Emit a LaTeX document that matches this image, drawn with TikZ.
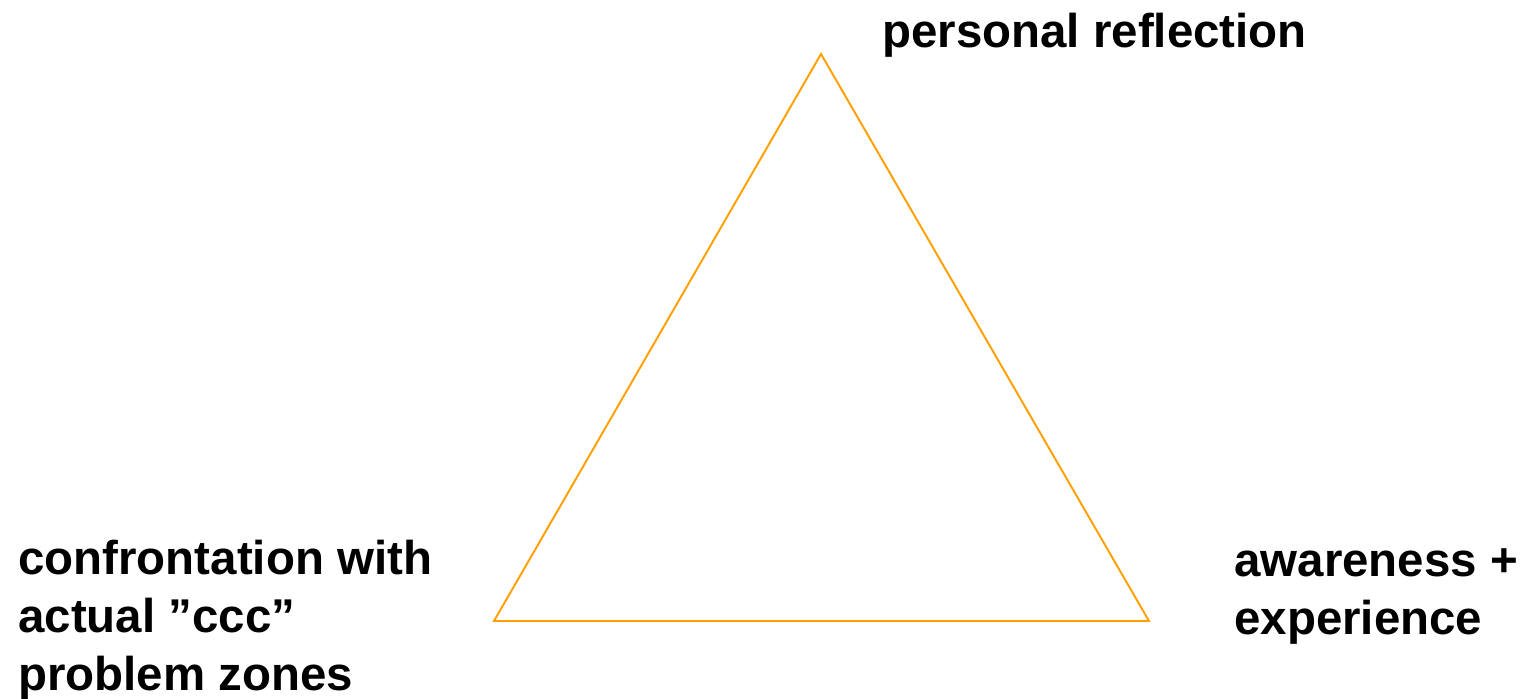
\documentclass[tikz,border=0pt]{standalone}
\usepackage{fontspec}
\setmainfont{Liberation Sans}
\usepackage{tikz}
\usetikzlibrary{positioning}
\definecolor{TriOrange}{RGB}{255,160,0}

\begin{document}
\begin{tikzpicture}[
    x=0.02cm,
    y=0.02cm,
    corner/.style={
        inner sep=0pt,
        align=left,
        anchor=base west,
        font=\fontsize{27}{33}\selectfont\bfseries
    },
    tri/.style={
        draw=TriOrange,
        line width=1.1pt,
        line join=miter
    }
]

\useasboundingbox (0,0) rectangle (1522,698);

\coordinate (apex) at (821,644);
\coordinate (lowleft) at (494,77);
\coordinate (lowright) at (1149,77);

\draw[tri]
(apex) -- (lowleft) -- (lowright) -- cycle;

\node[corner] (reflect) at (882,650)
{personal reflection};

\node[corner] (confront) at (18,8)
{confrontation with\\actual ”ccc”\\problem zones};

\node[corner] (aware) at (1234,64)
{awareness +\\experience};

\end{tikzpicture}
\end{document}
